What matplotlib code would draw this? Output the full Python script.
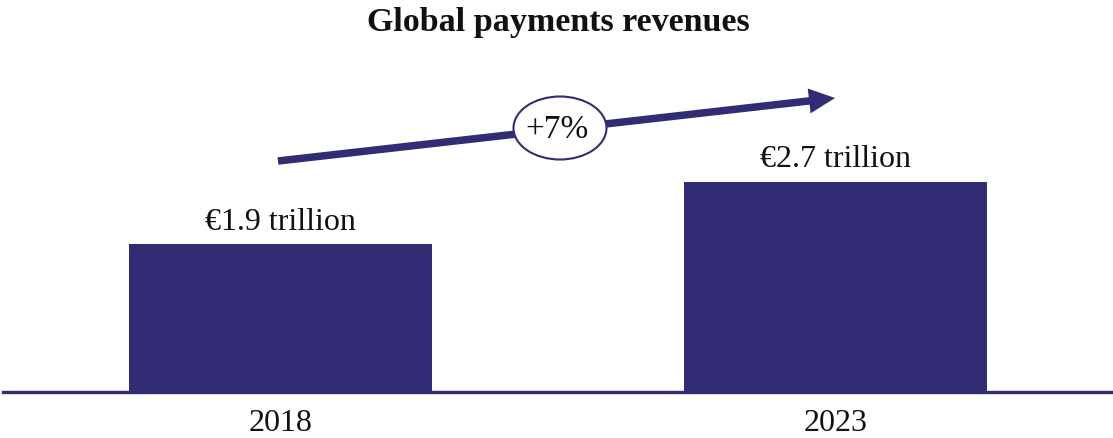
import matplotlib
matplotlib.use("Agg")
import matplotlib.pyplot as plt
from matplotlib.patches import Ellipse, FancyArrow

categories = ["2018", "2023"]
values = [1.9, 2.7]
value_labels = ["€1.9 trillion", "€2.7 trillion"]
growth_label = "+7%"
title = "Global payments revenues"

navy = "#312C74"
W, H = 1113, 439
plt.rcParams['font.family'] = ['Liberation Serif', 'DejaVu Serif']
fig = plt.figure(figsize=(W / 100, H / 100), dpi=100)

ax = fig.add_axes([3 / W, (H - 393) / H, 1110 / W, 393 / H])
x = list(range(len(categories)))
ax.bar(x, values, width=0.547, color=navy, zorder=2)
ax.set_xlim(-0.5, 1.5)
ax.set_ylim(0, 393 / 77.9)
for s in ["top", "right", "left"]:
    ax.spines[s].set_visible(False)
ax.spines["bottom"].set_color(navy)
ax.spines["bottom"].set_linewidth(2.4)
ax.set_yticks([])
ax.set_xticks(x)
ax.set_xticklabels(categories, fontsize=23, color="#111111")
ax.tick_params(axis="x", length=0, pad=11.5)

for xi, v, lab in zip(x, values, value_labels):
    ax.annotate(lab, (xi, v), xytext=(0, 11), textcoords="offset points",
                ha="center", va="baseline", fontsize=23, color="#111111")

fig.text(0.502, 1 - 23 / H, title, ha="center", va="center", fontsize=24.5,
         fontweight="bold", color="#111111")

# growth arrow (figure pixel coordinates)
x0, y0 = 278, H - 162
x1, y1 = 835, H - 99
arr = FancyArrow(x0, y0, x1 - x0, y1 - y0, width=7.5, head_width=25,
                 head_length=26, length_includes_head=True, transform=None,
                 facecolor=navy, edgecolor=navy, lw=0, zorder=4)
fig.patches.append(arr)
ell = Ellipse((560, H - 129), 93, 63, transform=None, facecolor="white",
              edgecolor=navy, lw=1.5, zorder=5)
fig.patches.append(ell)
fig.text(557 / W, 1 - 130 / H, growth_label, ha="center", va="center",
         fontsize=24, color="#111111", zorder=6)

fig.savefig("out.png", dpi=100)
